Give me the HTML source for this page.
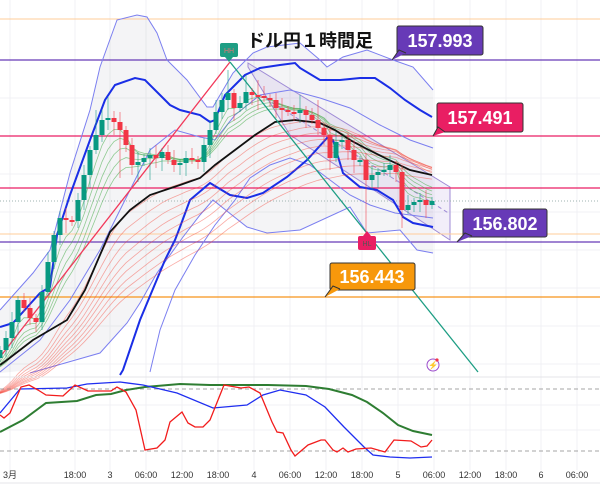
<!DOCTYPE html>
<html><head><meta charset="utf-8"><style>
html,body{margin:0;padding:0;background:#fff;}
svg{display:block;font-family:"Liberation Sans","Noto Sans CJK JP",sans-serif;}
</style></head><body>
<svg id="c" width="600" height="493" viewBox="0 0 600 493" xmlns="http://www.w3.org/2000/svg">
<g id="grid" stroke="#f0f1f4" stroke-width="1"></g>
<polygon fill="rgba(120,120,140,0.08)" points="0,310 33,273 50,250 70,173 90,110 100,67 117,20 137,15 147,17 157,33 167,60 187,80 207,107 213,107 233,73 253,53 267,47 300,43 320,60 327,67 343,57 367,50 393,60 413,67 433,90 433,253 417,250 400,230 367,233 350,207 300,230 267,233 247,227 213,200 183,237 157,273 140,303 127,323 100,353 30,370 0,373"/>
<polygon fill="rgba(149,117,205,0.12)" stroke="#9f8bd6" stroke-width="1" points="248,63 450,187 450,240 290,135 248,67"/>
<line x1="260" y1="95" x2="450" y2="214" stroke="#9f8bd6" stroke-dasharray="4,3" stroke-width="1"/>
<line x1="0" y1="19" x2="600" y2="19" stroke="#ffcc99" stroke-width="1"/>
<line x1="0" y1="60" x2="600" y2="60" stroke="#673ab7" stroke-width="1.3"/>
<line x1="0" y1="136" x2="600" y2="136" stroke="#e91e63" stroke-width="1.3"/>
<line x1="0" y1="188" x2="600" y2="188" stroke="#e91e63" stroke-width="1.3"/>
<line x1="0" y1="201" x2="600" y2="201" stroke="#9fb3b0" stroke-width="1" stroke-dasharray="1,2"/>
<line x1="0" y1="234" x2="600" y2="234" stroke="#ffcc99" stroke-width="1"/>
<line x1="0" y1="242" x2="600" y2="242" stroke="#673ab7" stroke-width="1.3"/>
<line x1="0" y1="297" x2="600" y2="297" stroke="#f7931a" stroke-width="1.2"/>
<polyline fill="none" stroke="#7b7ff0" stroke-width="1" points="0,310 33,273 50,250 70,173 90,110 100,67 117,20 137,15 147,17 157,33 167,60 187,80 207,107 213,107 233,73 253,53 267,47 300,43 320,60 327,67 343,57 367,50 393,60 413,67 433,90"/>
<polyline fill="none" stroke="#7b7ff0" stroke-width="1" points="30,373 100,353 127,323 140,303 157,273 183,237 200,215 213,200 247,227 267,233 300,230 350,207 367,233 400,230 417,250 433,253"/>
<polyline fill="none" stroke="#7b7ff0" stroke-width="1" points="0,372 40,340 70,300 100,250 125,200 150,150 175,130 200,137 215,140 235,115 260,95 290,90 320,98 350,108 380,125 410,140 433,148"/>
<polyline fill="none" stroke="#7b7ff0" stroke-width="1" points="150,372 160,330 175,290 195,255 215,225 235,200 250,178 270,165 290,158 310,165 330,180 350,195 370,205 395,213 433,218"/>
<polyline fill="none" stroke="#1a2ee6" stroke-width="2" points="0,327 13,323 40,293 50,287 57,235 70,195 90,140 105,100 115,85 135,78 145,80 160,95 170,105 180,110 200,115 210,122 215,120 225,95 235,85 245,75 260,68 280,65 295,63 300,68 320,80 340,80 360,78 375,78 390,88 405,100 420,110 432,117"/>
<polyline fill="none" stroke="#1a2ee6" stroke-width="2" points="120,375 123,370 140,320 165,260 175,240 180,227 190,200 210,183 230,195 247,198 263,193 287,177 307,160 327,138 333,140 343,173 360,187 377,190 393,200 403,217 413,223 433,227"/>
<g id="ribbons"></g>
<polyline fill="none" stroke="#111" stroke-width="1.8" points="0,365 7,360 33,340 67,320 85,290 100,255 110,232 130,210 150,195 180,185 200,178 215,165 235,150 255,135 275,122 295,120 320,123 335,130 350,140 365,148 385,158 410,170 432,175"/>
<line x1="0" y1="357" x2="230" y2="62" stroke="#f2385a" stroke-width="1.3"/>
<line x1="230" y1="62" x2="478" y2="372" stroke="#1e9e84" stroke-width="1.3"/>
<g id="candles"></g>
<rect x="220" y="43" width="18" height="14" rx="2" fill="#1e9e84"/><polygon points="225,57 233,57 229,62" fill="#1e9e84"/>
<text x="229" y="53" font-size="7" fill="#e57373" text-anchor="middle">HH</text>
<rect x="358" y="236" width="18" height="14" rx="2" fill="#e91e63"/><polygon points="363,236 371,236 367,231" fill="#e91e63"/>
<text x="367" y="246" font-size="7" fill="#555" text-anchor="middle">HL</text>
<text x="247" y="47" font-size="18" font-weight="bold" fill="#111">ドル円１時間足</text>
<g font-size="18" font-weight="bold" fill="#fff">
<rect x="397" y="26" width="86" height="29" rx="2" fill="#673ab7" stroke="#333" stroke-width="1"/>
<polyline points="392,60 399,50 406,53" fill="#673ab7" stroke="#333" stroke-width="1"/>
<text x="440" y="47" text-anchor="middle">157.993</text>
<rect x="437" y="103" width="86" height="29" rx="2" fill="#e91e63" stroke="#333" stroke-width="1"/>
<polyline points="433,136 438,127 445,132" fill="#e91e63" stroke="#333" stroke-width="1"/>
<text x="480" y="124" text-anchor="middle">157.491</text>
<rect x="463" y="209" width="84" height="28" rx="2" fill="#673ab7" stroke="#333" stroke-width="1"/>
<polyline points="457,242 465,233 472,236" fill="#673ab7" stroke="#333" stroke-width="1"/>
<text x="505" y="230" text-anchor="middle">156.802</text>
<rect x="330" y="263" width="85" height="27" rx="2" fill="#f7980b" stroke="#333" stroke-width="1"/>
<polyline points="325,297 333,286 340,289" fill="#f7980b" stroke="#333" stroke-width="1"/>
<text x="372" y="283" text-anchor="middle">156.443</text>
</g>
<circle cx="433" cy="365" r="6" fill="none" stroke="#9c4dcc" stroke-width="1"/>
<text x="433" y="368" font-size="8" fill="#9c4dcc" text-anchor="middle">⚡</text>
<circle cx="437" cy="360" r="1.6" fill="#f23645"/>
<line x1="0" y1="377" x2="600" y2="377" stroke="#e4e4e8" stroke-width="1"/>
<line x1="0" y1="389" x2="600" y2="389" stroke="#888" stroke-dasharray="4,3" stroke-width="0.8"/>
<line x1="0" y1="451" x2="600" y2="451" stroke="#888" stroke-dasharray="4,3" stroke-width="0.8"/>
<polyline fill="none" stroke="#2e7d32" stroke-width="2" points="0,432 23,420 46,403 77,401 96,395 111,394 126,390 145,387 180,384 210,385 268,385 306,386 329,389 352,395 367,402 383,413 398,425 413,431 432,435"/>
<polyline fill="none" stroke="#1f2ef0" stroke-width="1.3" points="0,413 20,389 67,388 87,384 120,382 143,385 177,393 213,408 247,405 263,395 280,390 306,395 325,407 344,427 364,447 373,455 390,457 410,458 432,457"/>
<polyline fill="none" stroke="#f21c1c" stroke-width="1.3" points="0,415 4,418 10,413 21,387 29,385 38,390 46,395 63,396 75,385 88,391 111,391 117,387 126,392 136,410 145,450 157,448 165,440 170,422 182,412 188,423 195,427 203,427 210,420 224,385 241,388 249,387 260,393 272,422 277,432 283,433 291,450 295,456 308,445 321,440 325,440 333,450 337,452 343,448 348,452 356,449 371,448 385,452 394,440 411,441 421,447 427,446 432,440"/>
<line x1="0" y1="483" x2="600" y2="483" stroke="#e4e4e8" stroke-width="1"/>
<g font-size="9" fill="#333" text-anchor="middle">
<text x="10" y="478">3月</text><text x="75" y="478">18:00</text><text x="110" y="478">3</text><text x="146" y="478">06:00</text><text x="182" y="478">12:00</text><text x="218" y="478">18:00</text><text x="254" y="478">4</text><text x="290" y="478">06:00</text><text x="326" y="478">12:00</text><text x="362" y="478">18:00</text><text x="398" y="478">5</text><text x="434" y="478">06:00</text><text x="470" y="478">12:00</text><text x="506" y="478">18:00</text><text x="541" y="478">6</text><text x="577" y="478">06:00</text>
</g>
</svg>
<script>
(function(){
var NS="http://www.w3.org/2000/svg";
function el(t,a,p){var e=document.createElementNS(NS,t);for(var k in a)e.setAttribute(k,a[k]);p.appendChild(e);return e;}
var g=document.getElementById("grid");
[10,75,110,146,182,218,254,290,326,362,398,434,470,506,541,577].forEach(function(x){el("line",{x1:x,y1:0,x2:x,y2:470},g);});
[19,60,98,136,174,212,250,288,326,364,405,430].forEach(function(y){el("line",{x1:0,y1:y,x2:600,y2:y},g);});
var cl=[350,338,322,300,308,318,322,292,262,235,218,220,221,200,175,150,135,120,118,122,130,145,165,162,158,155,158,152,160,165,163,158,160,162,145,130,112,100,93,108,103,92,95,96,98,100,108,110,112,113,110,115,120,128,135,158,142,140,150,160,160,180,175,172,170,165,172,210,205,202,200,205,201];
var hiX={108:97,228:70,246:75,258:80,96:110,216:100,300:95,318:100};
var loX={366:235,402:228,120:178,138:182,150:180,330:170,42:330};
var cg=document.getElementById("candles");
var prev=358;
for(var i=0;i<cl.length;i++){
 var x=i*6,o=prev,c=cl[i];prev=c;
 var top=Math.min(o,c),bot=Math.max(o,c);
 if(bot-top<2){bot=top+2;}
 var hi=hiX[x]!==undefined?hiX[x]:top-4-(i%3)*3;
 var lo=loX[x]!==undefined?loX[x]:bot+4+(i%4)*3;
 var col=c>o?"#f23645":"#089981";
 el("line",{x1:x,y1:hi,x2:x,y2:lo,stroke:col,"stroke-width":1,opacity:0.55},cg);
 el("rect",{x:x-2.5,y:top,width:5,height:bot-top,fill:col},cg);
}
var rg=document.getElementById("ribbons");
function ema(p,seed){var k=2/(p+1),v=seed,out=[];for(var i=0;i<cl.length;i++){v=cl[i]*k+v*(1-k);out.push((i*6)+","+v.toFixed(1));}return out.join(" ");}
[4,6,8,10,12].forEach(function(p){el("polyline",{points:ema(p,370),fill:"none",stroke:"#4caf50","stroke-width":0.8,opacity:0.6},rg);});
[22,26,30,34,38,42,47,52,58].forEach(function(p){el("polyline",{points:ema(p,395),fill:"none",stroke:"#f44336","stroke-width":0.8,opacity:0.45},rg);});
})();
</script>
</body></html>
